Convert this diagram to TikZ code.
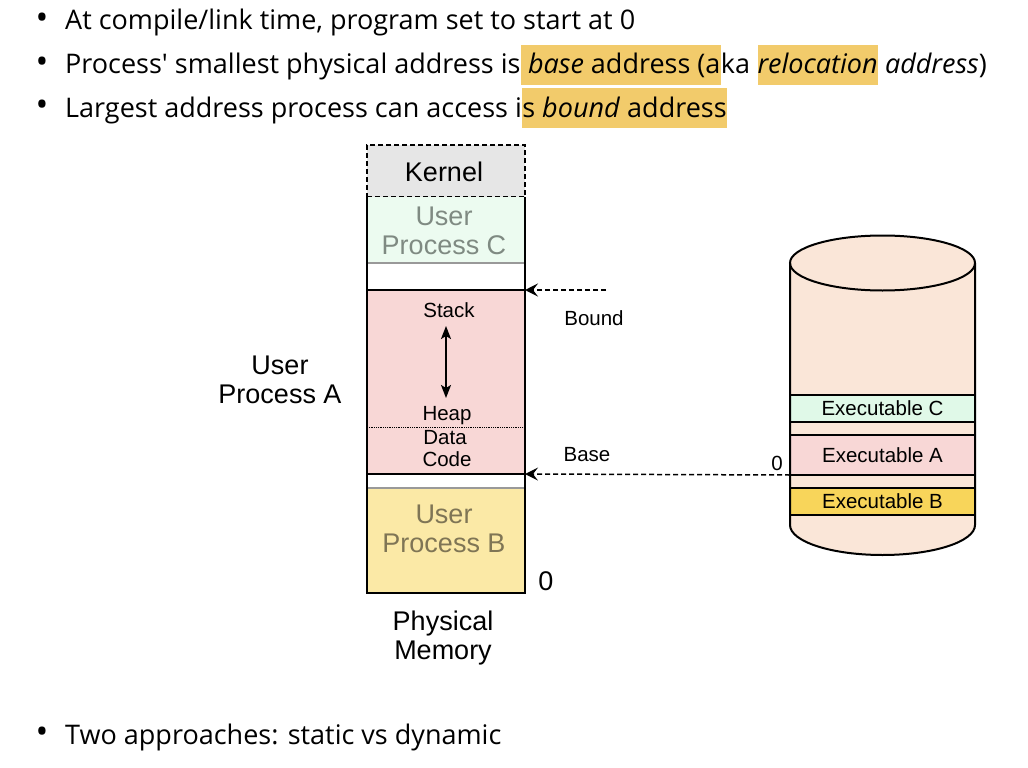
\documentclass[tikz,border=0pt]{standalone}
\usepackage{fontspec}
\usetikzlibrary{arrows.meta}
\newfontfamily\bulfont{Open Sans}
\newfontfamily\arialf{Liberation Sans}
\definecolor{hl}{HTML}{F2CB6B}
\definecolor{kerncol}{HTML}{E6E6E6}
\definecolor{ccol}{HTML}{ECFBF0}
\definecolor{acol}{HTML}{F8D7D6}
\definecolor{bcol}{HTML}{FBE9A6}
\definecolor{ctext}{HTML}{7F8A82}
\definecolor{btext}{HTML}{7F7555}
\definecolor{peach}{HTML}{FAE6D8}
\definecolor{exc}{HTML}{E0F9E8}
\definecolor{exb}{HTML}{F8D55A}
\definecolor{sepgray}{HTML}{999999}
\tikzset{
  bul/.style={font=\bulfont\fontsize{27}{30}\selectfont, inner sep=0pt, anchor=base west},
  hlbox/.style={bul, fill=hl, text height=29pt, text depth=11pt},
  bigt/.style={font=\arialf\fontsize{27}{28.5}\selectfont, align=center, inner sep=0pt},
  smallt/.style={font=\arialf\fontsize{20.5}{21.5}\selectfont, inner sep=0pt},
  memblk/.style={minimum width=158pt, inner sep=0pt, outer sep=0pt, anchor=north west},
  band/.style={minimum width=185pt, inner sep=0pt, outer sep=0pt, anchor=north west, draw=black, line width=1.5pt, font=\arialf\fontsize{20.5}{21.5}\selectfont},
  dasharrow/.style={dash pattern=on 5pt off 3pt, line width=1.5pt, -{Stealth[length=13pt,width=13pt,inset=5pt]}},
  dot/.style={font=\bulfont\fontsize{34}{34}\selectfont, inner sep=0pt}
}
\begin{document}
\begin{tikzpicture}[x=1pt,y=-1pt]
\useasboundingbox (0,0) rectangle (1028,768);
% bullets
\node[dot] (d1) at (42,21) {•};
\node[bul] (l1) at (65,30) {At compile/link time, program set to start at 0};
\node[dot] (d2) at (42,65) {•};
\node[bul] (l2a) at (65,74) {Process' smallest physical address is};
\node[hlbox] (l2b) at (l2a.base east) {\null\ \textit{base} address (a};
\node[bul] (l2c) at (l2b.base east) {ka\ \null};
\node[hlbox] (l2d) at (l2c.base east) {\textit{relocation}};
\node[bul] (l2e) at (l2d.base east) {\null\ \textit{address})};
\node[dot] (d3) at (42,108) {•};
\node[bul] (l3a) at (65,117) {Largest address process can access i};
\node[hlbox] (l3b) at (l3a.base east) {s \textit{bound} address};
\node[dot] (d4) at (42,735) {•};
\node[bul] (l4) at (65,744) {Two approaches: static vs dynamic};

% memory
\node[memblk, minimum height=52pt, fill=kerncol, draw=black, dash pattern=on 5pt off 3pt, line width=1.5pt] (kern) at (367,145) {};
\node[bigt] at (444,172) {Kernel};
\node[memblk, minimum height=66pt, fill=ccol] (pc) at (367,197) {};
\node[bigt, text=ctext] at (444,231) {User\\Process C};
\node[memblk, minimum height=27pt, fill=white] (gapc) at (367,263) {};
\node[memblk, minimum height=184pt, fill=acol] (pa) at (367,290) {};
\node[memblk, minimum height=14pt, fill=white] (gapb) at (367,474) {};
\node[memblk, minimum height=105pt, fill=bcol] (pb) at (367,488) {};
\node[bigt, text=btext] at (444,529) {User\\Process B};
\draw[sepgray, line width=1.5pt] (pc.south west) -- (pc.south east);
\draw[sepgray, line width=1.5pt] (pb.north west) -- (pb.north east);
\draw[densely dotted, line width=0.8pt] (367,427) -- (525,427);
\draw[line width=1.5pt] (pa.north west) -- (pa.north east);
\draw[line width=1.5pt] (pa.south west) -- (pa.south east);
\draw[line width=1.8pt] (kern.south west) -- (pb.south west) -- (pb.south east) -- (kern.south east);

\node[smallt] (stack) at (449,310) {Stack};
\node[smallt] (heap) at (447,416) {Heap};
\node[smallt] (data) at (445,438) {Data};
\node[smallt] (code) at (447,459) {Code};
\coordinate (sa1) at (446,326);
\coordinate (sa2) at (446,398);
\draw[line width=2pt, {Stealth[length=13pt,width=10pt,inset=3pt]}-{Stealth[length=13pt,width=10pt,inset=3pt]}] (sa1) -- (sa2);

\node[bigt] at (280,380) {User\\Process A};
\node[bigt] at (443,638) {Physical\\Memory};
\node[bigt] at (546,581) {0};

% cylinder
\fill[peach] (790,263) -- (790,525) arc[start angle=180,end angle=0,x radius=92.5,y radius=30] -- (975,263) arc[start angle=0,end angle=-180,x radius=92.5,y radius=27.5] -- cycle;
\node[band, minimum height=27pt, fill=exc] (exC) at (790,395) {Executable C};
\node[band, minimum height=40pt, fill=acol] (exA) at (790,435) {Executable A};
\node[band, minimum height=27pt, fill=exb] (exB) at (790,488) {Executable B};
\draw[line width=2pt] (790,263) -- (790,525) arc[start angle=180,end angle=0,x radius=92.5,y radius=30] -- (975,263);
\draw[line width=2pt] (882.5,263) ellipse[x radius=92.5, y radius=27.5];

% arrows
\coordinate (bndstart) at (606,290);
\draw[dasharrow] (bndstart) -- (pa.north east);
\draw[dasharrow] (exA.south west) -- (pa.south east);
\node[smallt] at (594,318) {Bound};
\node[smallt] at (587,455) {Base};
\node[smallt] at (777,463) {0};
\end{tikzpicture}
\end{document}
